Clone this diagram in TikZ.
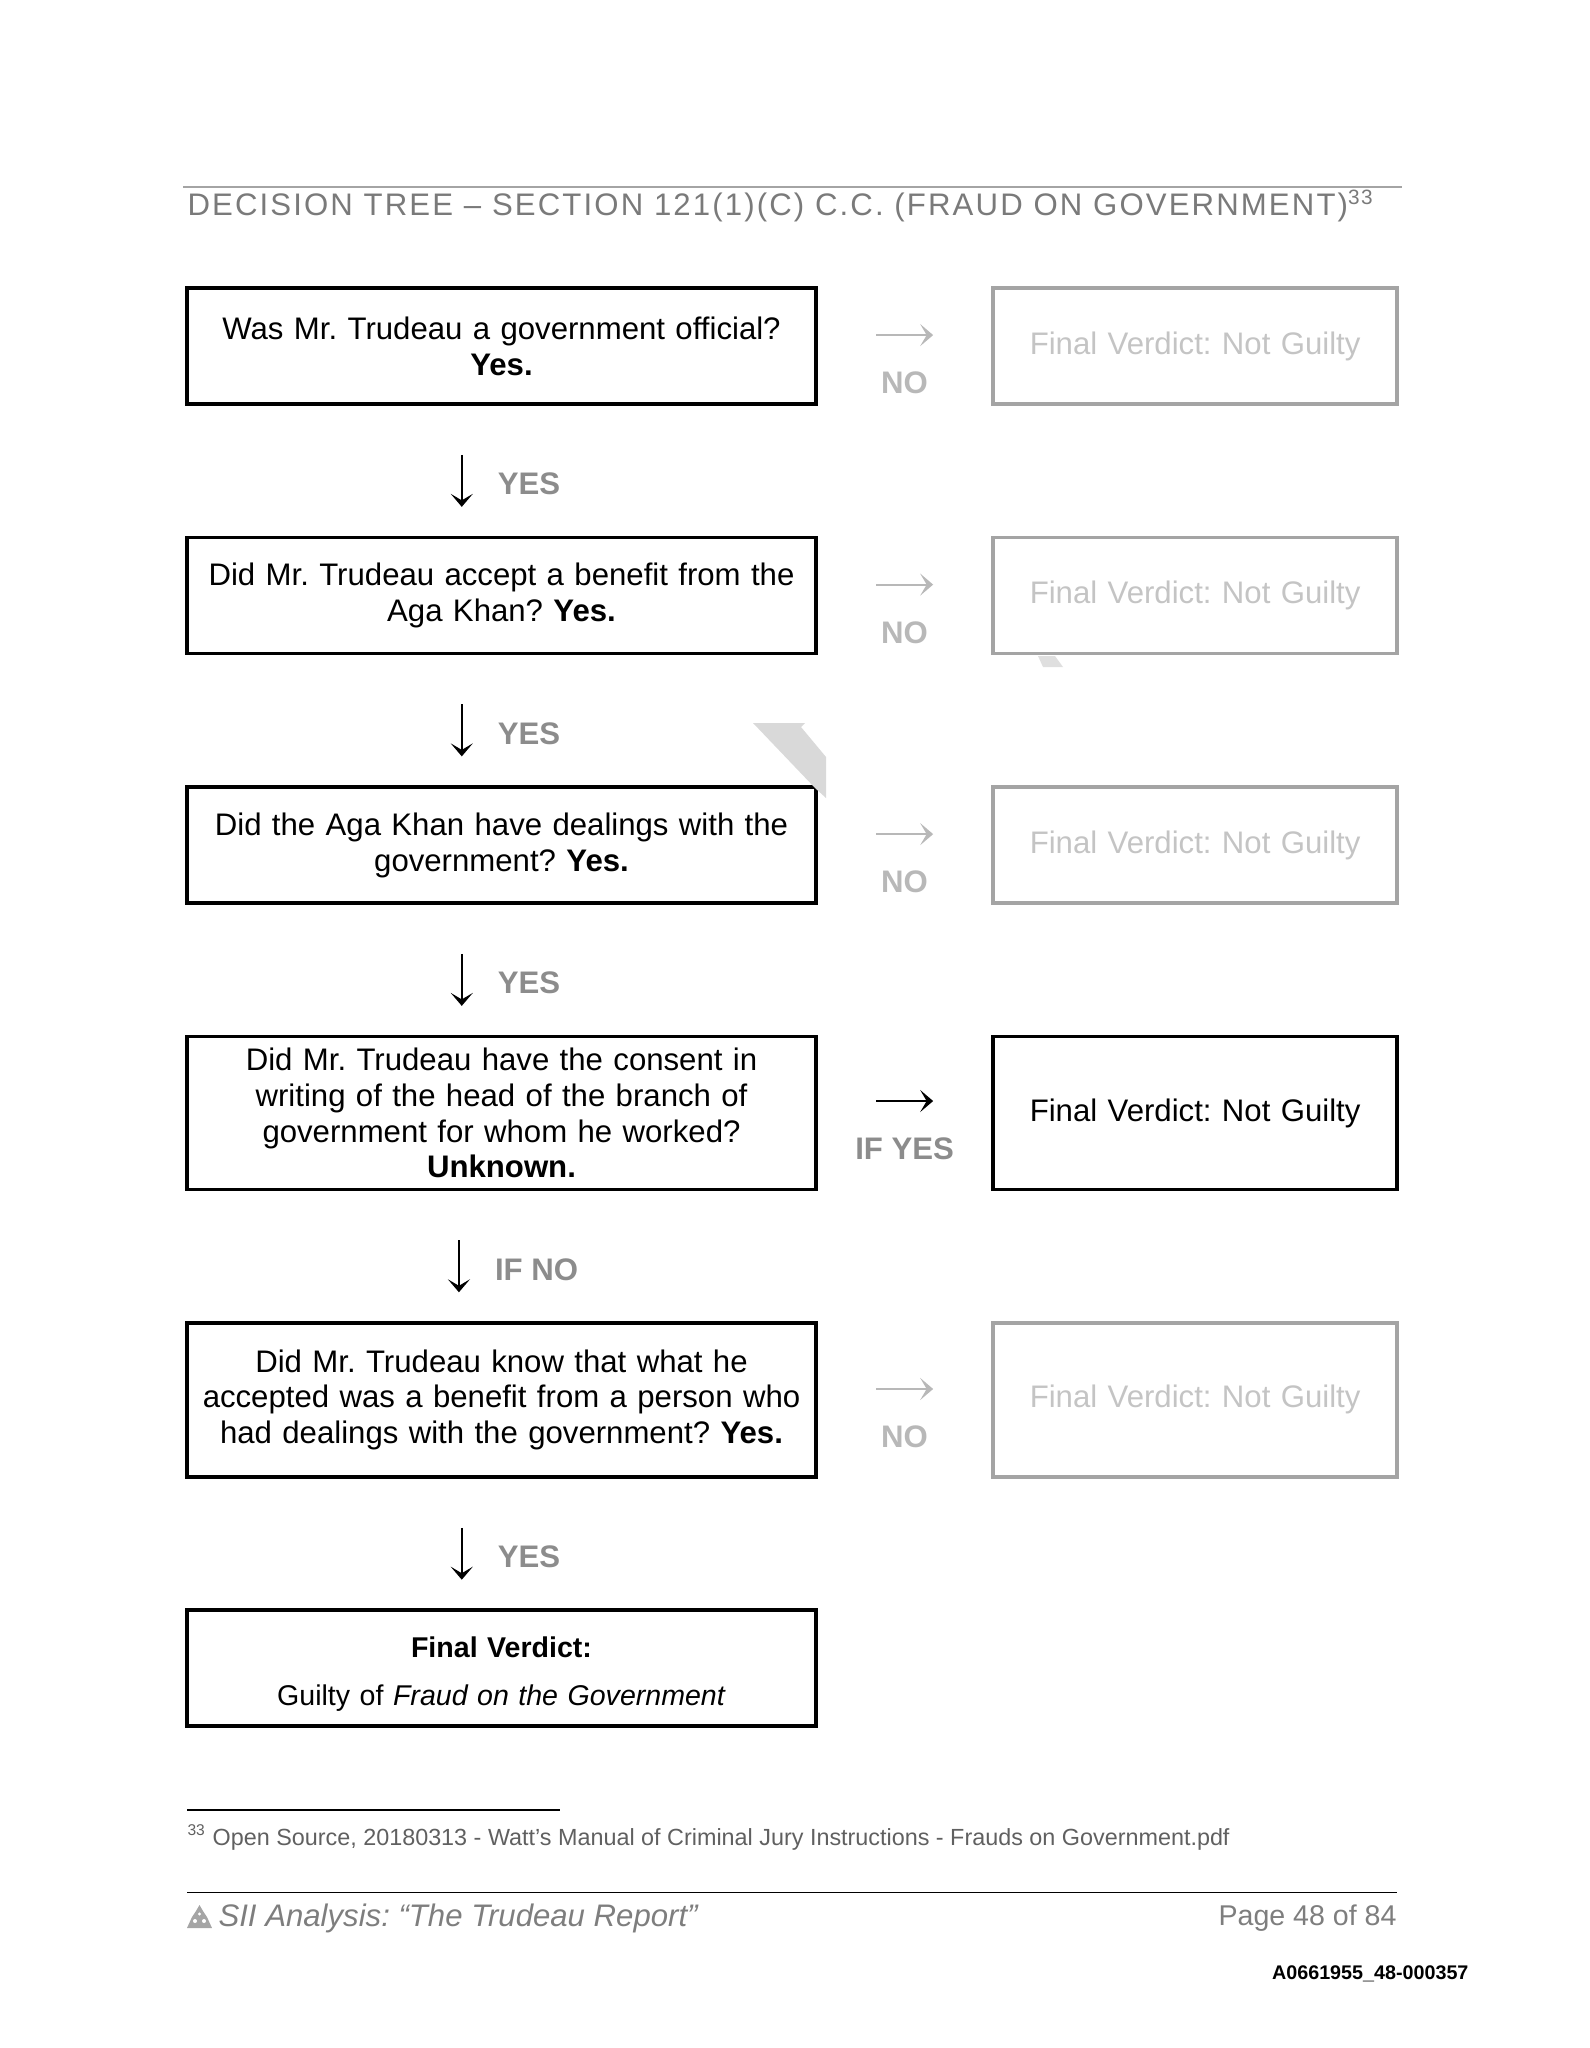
\documentclass[tikz,border=0pt]{standalone}
\usepackage{fontspec}
\setmainfont{Liberation Sans}
\usetikzlibrary{arrows.meta,positioning}
\frenchspacing

\definecolor{titlegray}{HTML}{7A7A7A}
\definecolor{labelgray}{HTML}{8C8C8C}
\definecolor{nogray}{HTML}{B8B8B8}
\definecolor{fadedtext}{HTML}{C4C4C4}
\definecolor{fadedline}{HTML}{A4A4A4}
\definecolor{footgray}{HTML}{7E7E7E}
\definecolor{notegray}{HTML}{606060}

\newcommand{\boxfont}{\fontsize{12}{13.8}\selectfont}

\begin{document}
\begin{tikzpicture}[x=0.38515pt, y=-0.38515pt, >={Stealth[length=5pt, width=8.5pt, inset=2.5pt]},
    node distance=51.4pt and 68.2pt,
    question/.style={draw, line width=1.5pt, minimum width=242.3pt, minimum height=44.7pt,
        text width=238pt, align=center, font=\boxfont, inner sep=0pt, outer sep=0pt},
    verdict/.style={question, minimum width=155.6pt, text width=150pt},
    faded/.style={verdict, draw=fadedline, text=fadedtext},
    down/.style={->, line width=0.8pt, shorten <=19.6pt, shorten >=11.8pt},
    across/.style={->, line width=0.8pt, shorten <=23.1pt, shorten >=23.1pt},
    yeslabel/.style={pos=0.6, anchor=west, xshift=13.5pt, inner sep=0pt,
        font=\boxfont\bfseries, text=labelgray},
    nolabel/.style={midway, yshift=-18.5pt, inner sep=0pt, font=\boxfont\bfseries, text=nogray}]

    \useasboundingbox (0,0) rectangle (1589,2048);

    % heading
    \draw[fadedline, line width=0.5pt] (183,187) -- (1402,187);
    \node[anchor=west, inner sep=0pt, text=titlegray,
          font=\fontsize{12}{14}\selectfont\addfontfeature{LetterSpace=6.8}] (title) at (187,206)
        {DECISION TREE – SECTION 121(1)(C) C.C. (FRAUD ON GOVERNMENT)\textsuperscript{33}};

    % questions
    \node[question]                         (q1) at (501.5,346) {Was Mr. Trudeau a government official?\\ \textbf{Yes.}};
    \node[question, below=of q1]            (q2) {Did Mr. Trudeau accept a benefit from the\\ Aga Khan? \textbf{Yes.}};
    \node[question, below=of q2]            (q3) {Did the Aga Khan have dealings with the\\ government? \textbf{Yes.}};
    \node[question, below=of q3, minimum height=58.9pt] (q4)
        {Did Mr. Trudeau have the consent in\\ writing of the head of the branch of\\ government for whom he worked?\\ \textbf{Unknown.}};
    \node[question, below=of q4, minimum height=59.3pt] (q5)
        {Did Mr. Trudeau know that what he\\ accepted was a benefit from a person who\\ had dealings with the government? \textbf{Yes.}};
    \node[question, below=of q5, font=\fontsize{11}{12.6}\selectfont] (guilty)
        {\rule{0pt}{12.6pt}\textbf{Final Verdict:}\\[6pt] Guilty of \textit{Fraud on the Government}};

    % verdicts
    \node[faded, right=of q1]                            (nv1) {Final Verdict: Not Guilty};
    \node[faded, right=of q2]                            (nv2) {Final Verdict: Not Guilty};
    \node[faded, right=of q3]                            (nv3) {Final Verdict: Not Guilty};
    \node[verdict, right=of q4, minimum height=58.9pt]   (nv4) {Final Verdict: Not Guilty};
    \node[faded, right=of q5, minimum height=59.3pt]     (nv5) {Final Verdict: Not Guilty};

    % yes arrows
    \path[down] ([xshift=-15.3pt]q1.south) edge node[yeslabel] {YES}   ([xshift=-15.3pt]q2.north)
                ([xshift=-15.3pt]q2.south) edge node[yeslabel] {YES}   ([xshift=-15.3pt]q3.north)
                ([xshift=-15.3pt]q3.south) edge node[yeslabel] {YES}   ([xshift=-15.3pt]q4.north)
                ([xshift=-16.4pt]q4.south) edge node[yeslabel] {IF NO} ([xshift=-16.4pt]q5.north)
                ([xshift=-15.3pt]q5.south) edge node[yeslabel] {YES}   ([xshift=-15.3pt]guilty.north);

    % no arrows
    \path[across, nogray] ([yshift=4.2pt]q1.east) edge node[nolabel] {NO} ([yshift=4.2pt]nv1.west)
                          ([yshift=4.2pt]q2.east) edge node[nolabel] {NO} ([yshift=4.2pt]nv2.west)
                          ([yshift=4.2pt]q3.east) edge node[nolabel] {NO} ([yshift=4.2pt]nv3.west)
                          ([yshift=4.2pt]q5.east) edge node[nolabel] {NO} ([yshift=4.2pt]nv5.west);
    \path[across] ([yshift=4.6pt]q4.east) edge node[nolabel, text=labelgray] {IF YES} ([yshift=4.6pt]nv4.west);

    % scan marks
    \fill[gray!30] (753,723) -- (805,723) -- (801,727) -- (826,757) -- (826,798) -- (815,788) -- cycle;
    \fill[gray!25] (1038,656) -- (1055,656) -- (1063,667) -- (1043,667) -- cycle;

    % footnote and footer
    \draw[line width=0.6pt] (187,1810) -- (560,1810);
    \node[anchor=west, inner sep=0pt, text=notegray, font=\fontsize{9}{10.5}\selectfont] (note) at (187,1837.5)
        {\textsuperscript{33} Open Source, 20180313 - Watt’s Manual of Criminal Jury Instructions - Frauds on Government.pdf};
    \draw[line width=0.75pt] (187,1892.5) -- (1397,1892.5);
    \fill[footgray!70] (187,1928) -- (212,1928) -- (207,1917) -- (203,1911) -- (199.5,1905) -- (196,1911) -- (192,1917) -- cycle;
    \fill[white] (195,1921) circle (2) (204,1921) circle (2) (199.5,1914) circle (1.6);
    \node[anchor=west, inner sep=0pt, text=footgray, font=\fontsize{12}{14}\selectfont\itshape] (report) at (218,1918.5)
        {SII Analysis: “The Trudeau Report”};
    \node[anchor=east, inner sep=0pt, text=footgray, font=\fontsize{11}{13}\selectfont] (page) at (1397,1918.5)
        {Page 48 of 84};
    \node[anchor=east, inner sep=0pt, font=\fontsize{7.6}{9}\selectfont\bfseries] (stamp) at (1469,1973.5)
        {A0661955\_48-000357};

\end{tikzpicture}
\end{document}
